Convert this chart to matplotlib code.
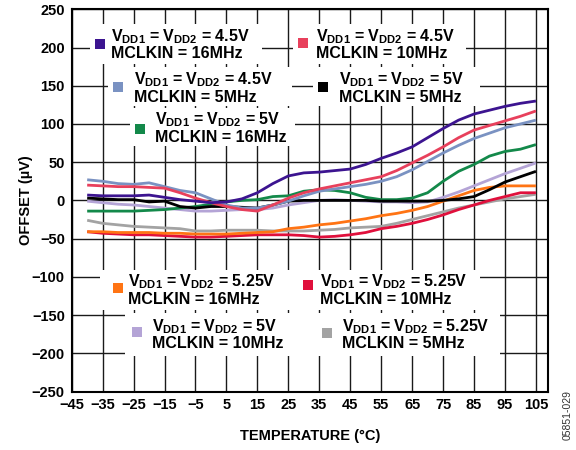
import numpy as np
import matplotlib.pyplot as plt
from matplotlib.patches import Rectangle

plt.rcParams['font.family'] = ['Liberation Sans', 'DejaVu Sans']
plt.rcParams['font.weight'] = 'bold'
plt.rcParams['mathtext.fontset'] = 'custom'
plt.rcParams['mathtext.rm'] = 'Liberation Sans:bold'
plt.rcParams['mathtext.it'] = 'Liberation Sans:bold'
plt.rcParams['mathtext.bf'] = 'Liberation Sans:bold'

temp = np.arange(-40, 106, 5)

vdd45_16 = [7, 6, 6, 6, 7, 4, 1, -1, -3, -2, 2, 10, 22, 32, 36, 37, 39, 41, 47, 55,
            62, 70, 82, 94, 105, 113, 118, 123, 127, 130]
vdd45_10 = [20, 19, 18, 18, 17, 16, 10, 3, -3, -8, -12, -14, -6, 3, 10, 15, 19, 23, 27, 31,
            39, 49, 59, 70, 82, 92, 98, 104, 110, 117]
vdd45_5 = [27, 25, 22, 21, 23, 18, 13, 10, 2, -6, -10, -10, -6, -1, 6, 12, 15, 18, 21, 25,
           31, 40, 51, 62, 72, 81, 88, 95, 100, 105]
vdd5_5 = [3, 2, 1, 1, -2, -1, -8, -10, -8, -8, -9, -10, -6, -1, 0, 0, 0, 0, 0, -1,
          -1, -1, -1, 0, 2, 5, 14, 24, 31, 38]
vdd5_16 = [-14, -14, -14, -14, -13, -12, -10, -8, -5, -2, 0, 1, 5, 6, 12, 14, 13, 10, 4, 1,
           1, 3, 10, 25, 38, 47, 58, 64, 67, 73]
vdd5_10 = [-1, -3, -5, -6, -8, -10, -12, -14, -14, -13, -12, -12, -10, -6, -3, 0, 1, 0, -1, -2,
           -2, -3, -2, 4, 11, 19, 27, 35, 42, 49]
vdd525_16 = [-41, -41, -42, -42, -42, -43, -43, -44, -44, -44, -43, -42, -41, -37, -35, -32, -30, -27, -24, -20,
             -17, -13, -8, -1, 6, 13, 17, 19, 19, 19]
vdd525_10 = [-41, -43, -44, -45, -45, -46, -47, -48, -48, -47, -46, -45, -45, -45, -46, -48, -47, -45, -42, -37,
             -34, -30, -25, -19, -12, -6, 0, 5, 10, 10]
vdd525_5 = [-26, -30, -32, -34, -35, -36, -37, -40, -40, -39, -39, -39, -40, -40, -40, -39, -38, -36, -35, -34,
            -30, -25, -20, -15, -10, -6, -2, 2, 5, 8]

series = [vdd525_5, vdd525_10, vdd525_16, vdd5_10, vdd5_16, vdd5_5, vdd45_5, vdd45_10, vdd45_16]
colors = ['#a3a3a3', '#e0103c', '#ff7414', '#b4a4d6', '#13894a', '#000000', '#7a92c2', '#e8405c', '#3c1490']

leg_volts = ['4.5V', '4.5V', '4.5V', '5V', '5V', '5.25V', '5.25V', '5V', '5.25V']
leg_clk = ['16MHz', '10MHz', '5MHz', '5MHz', '16MHz', '16MHz', '10MHz', '10MHz', '5MHz']
leg_colors = ['#3c1490', '#e8405c', '#7a92c2', '#000000', '#13894a', '#ff7414', '#e0103c', '#b4a4d6', '#a3a3a3']
# pixel layout: marker x, marker y, text x, first line y
leg_pos = [(100, 44, 111, 37), (303, 43, 316, 37), (118, 87, 134, 80), (323, 87, 339, 80),
           (140, 129, 155, 120), (118, 288, 128, 282), (308, 285, 320, 282), (137, 332, 152, 327),
           (327, 333, 342, 327)]
leg_box = [(90, 24, 262, 64), (293, 24, 466, 64), (108, 67, 292, 106), (313, 67, 480, 106),
           (130, 108, 295, 146), (100, 270, 300, 310), (298, 270, 480, 310), (125, 313, 320, 356),
           (320, 313, 500, 356)]

W, H = 576, 450
fig = plt.figure(figsize=(W / 100, H / 100), dpi=100)
ax = fig.add_axes([71.7 / W, 1 - 391.5 / H, 476.6 / W, 382.2 / H])


def px(x, y):
    return x / W, 1 - y / H


for s, c in zip(series, colors):
    ax.plot(temp, s, color=c, lw=2.0, zorder=2, solid_capstyle='butt')

ax.set_xlim(-45, 109)
ax.set_ylim(-250, 250)
ax.set_xticks(np.arange(-45, 106, 10))
ax.set_yticks(np.arange(-250, 251, 50))
ax.set_axisbelow(True)
ax.grid(True, color='#1a1a1a', lw=1.0)
ax.tick_params(length=0, labelsize=10.5, pad=5)
for sp in ax.spines.values():
    sp.set_linewidth(1.5)
ax.set_xlabel('TEMPERATURE (°C)', fontsize=10.5, fontweight='bold', labelpad=12)
ax.set_ylabel('OFFSET (µV)', fontsize=10.5, fontweight='bold', labelpad=-1)

for i in range(len(leg_volts)):
    mx, my, tx, ty = leg_pos[i]
    x0, y0, x1, y1 = leg_box[i]
    bx, by = px(x0, y1)
    ax.add_patch(Rectangle((bx, by), (x1 - x0) / W, (y1 - y0) / H, transform=fig.transFigure,
                           facecolor='white', edgecolor='none', zorder=2.5, clip_on=False))
    ax.add_patch(Rectangle(px(mx - 5, my + 5), 10 / W, 10 / H, transform=fig.transFigure,
                           facecolor=leg_colors[i], edgecolor='none', zorder=3, clip_on=False))
    line1 = r'V$_{DD1}$ = V$_{DD2}$ = ' + leg_volts[i]
    line2 = 'MCLKIN = ' + leg_clk[i]
    fig.text(*px(tx, ty), line1, fontsize=11.5, fontweight='bold', va='center', ha='left', zorder=4)
    fig.text(*px(tx, ty + 17), line2, fontsize=11.5, fontweight='bold', va='center', ha='left', zorder=4)

fig.text(*px(568, 415), '05851-029', rotation=90, fontsize=7.5, fontweight='normal',
         ha='center', va='center', color='#333333')

fig.savefig('out.png', dpi=100)
